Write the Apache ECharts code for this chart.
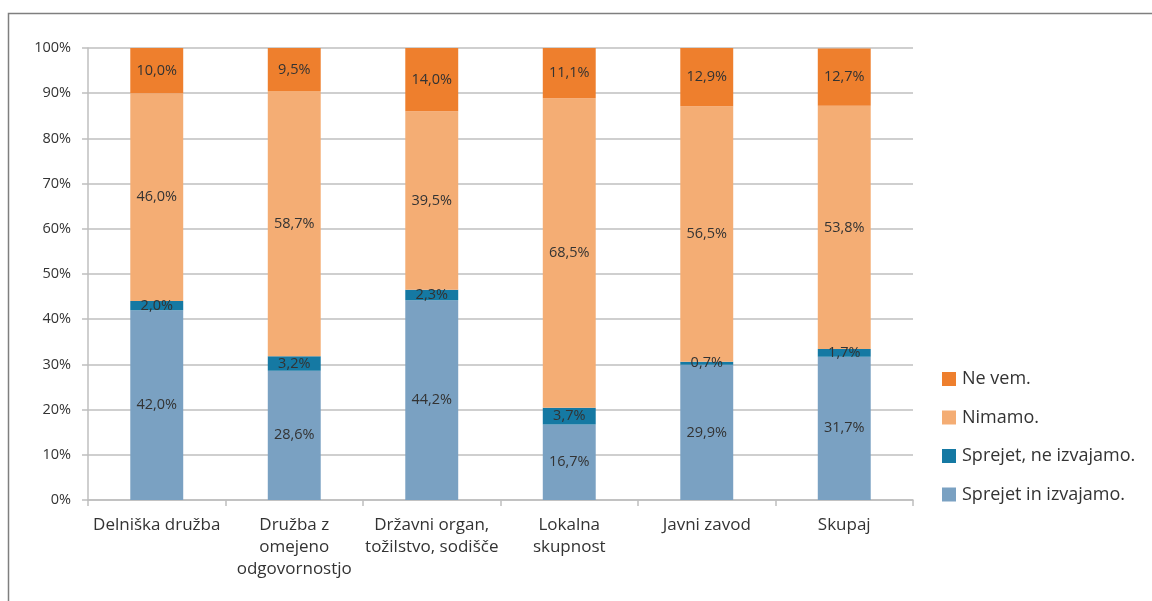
<!DOCTYPE html>
<html><head><meta charset="utf-8">
<script src="https://cdn.jsdelivr.net/npm/echarts@6/dist/echarts.min.js"></script>
<style>html,body{margin:0;padding:0;background:#fff}#c{width:1152px;height:601px}</style>
</head><body><div id="c"></div>
<script>
const categories = ['Delniška družba', 'Družba z\nomejeno\nodgovornostjo', 'Državni organ,\ntožilstvo, sodišče', 'Lokalna\nskupnost', 'Javni zavod', 'Skupaj'];
const sprejetIzvajamo = [42.0, 28.6, 44.2, 16.7, 29.9, 31.7];
const sprejetNeIzvajamo = [2.0, 3.2, 2.3, 3.7, 0.7, 1.7];
const nimamo = [46.0, 58.7, 39.5, 68.5, 56.5, 53.8];
const neVem = [10.0, 9.5, 14.0, 11.1, 12.9, 12.7];
const yTicks = [0, 10, 20, 30, 40, 50, 60, 70, 80, 90, 100];

const font = '"Open Sans", "Noto Sans", sans-serif';
const chart = echarts.init(document.getElementById('c'));
function mk(name, data, color) {
  return {
    name, type: 'bar', stack: 'a', data, barWidth: '38.5%',
    itemStyle: { color },
    label: { show: true, position: 'inside', color: '#333', fontFamily: font, fontSize: 14.5,
      formatter: p => p.value.toFixed(1).replace('.', ',') + '%' }
  };
}
chart.setOption({
  animation: false,
  textStyle: { fontFamily: font },
  graphic: [{ type: 'rect', left: 6, top: 11, shape: { width: 1300, height: 700 },
    style: { fill: 'none', stroke: '#7f7f7f', lineWidth: 1.5 } }],
  grid: { left: 88, right: 239, top: 48, bottom: 101 },
  legend: {
    orient: 'vertical', left: 937, top: 365, itemWidth: 14, itemHeight: 14, itemGap: 20.5,
    data: ['Ne vem.', 'Nimamo.', 'Sprejet, ne izvajamo.', 'Sprejet in izvajamo.'],
    textStyle: { fontFamily: font, fontSize: 18, color: '#333', padding: [0, 0, 0, 1] },
    icon: 'rect'
  },
  xAxis: {
    type: 'category', data: categories,
    axisLine: { lineStyle: { color: '#bfbfbf', width: 1.5 } },
    axisTick: { show: true, length: 6, lineStyle: { color: '#bfbfbf', width: 1.5 } },
    axisLabel: { color: '#333', fontFamily: font, fontSize: 17, lineHeight: 22, margin: 14, interval: 0 }
  },
  yAxis: {
    type: 'value', min: 0, max: 100, interval: 10,
    axisLine: { show: true, lineStyle: { color: '#bfbfbf', width: 1.5 } },
    axisTick: { show: true, length: 6, lineStyle: { color: '#bfbfbf', width: 1.5 } },
    splitLine: { lineStyle: { color: '#bfbfbf', width: 1.5 } },
    axisLabel: { color: '#333', fontFamily: font, fontSize: 14.5, margin: 17,
      formatter: v => yTicks.includes(v) ? v + '%' : '' }
  },
  series: [
    mk('Sprejet in izvajamo.', sprejetIzvajamo, '#7aa1c2'),
    mk('Sprejet, ne izvajamo.', sprejetNeIzvajamo, '#1579a3'),
    mk('Nimamo.', nimamo, '#f4ad74'),
    mk('Ne vem.', neVem, '#ee7f2d')
  ]
});
</script></body></html>
